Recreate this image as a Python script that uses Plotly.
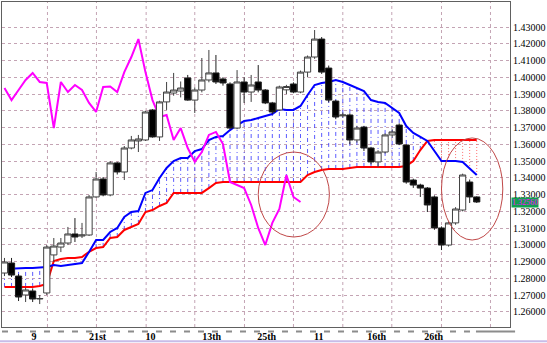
import plotly.graph_objects as go

# ---------------- data ----------------
opens = [1.2832, 1.2892, 1.2814, 1.2701, 1.2725, 1.2677, 1.2713, 1.2940, 1.2987, 1.3011,
         1.3065, 1.3053, 1.3059, 1.3286, 1.3393, 1.3298, 1.3489, 1.3435, 1.3578, 1.3620,
         1.3626, 1.3805, 1.3644, 1.3853, 1.3906, 1.3918, 1.3996, 1.3864, 1.3924, 1.3984,
         1.4026, 1.3990, 1.3960, 1.3697, 1.3972, 1.3912, 1.3972, 1.3924, 1.3847, 1.3805,
         1.3925, 1.3960, 1.3912, 1.4031, 1.4121, 1.4228, 1.4055, 1.3858, 1.3770, 1.3775,
         1.3626, 1.3703, 1.3578, 1.3495, 1.3554, 1.3656, 1.3715, 1.3596, 1.3387, 1.3357,
         1.3339, 1.3286, 1.3101, 1.2999, 1.3131, 1.3208, 1.3375, 1.3286]
highs = [1.2922, 1.2922, 1.2826, 1.2745, 1.2740, 1.2701, 1.2999, 1.3041, 1.3041, 1.3107,
         1.3160, 1.3131, 1.3298, 1.3435, 1.3405, 1.3500, 1.3495, 1.3590, 1.3650, 1.3656,
         1.3800, 1.3810, 1.3860, 1.3972, 1.4026, 1.3975, 1.4014, 1.3940, 1.4115, 1.4163,
         1.4133, 1.4000, 1.3970, 1.4043, 1.4000, 1.4014, 1.4073, 1.3930, 1.3853, 1.3950,
         1.3955, 1.3970, 1.4040, 1.4130, 1.4282, 1.4240, 1.4070, 1.3865, 1.3790, 1.3785,
         1.3710, 1.3710, 1.3585, 1.3565, 1.3665, 1.3690, 1.3725, 1.3600, 1.3395, 1.3365,
         1.3345, 1.3295, 1.3110, 1.3140, 1.3225, 1.3425, 1.3390, 1.3290]
lows = [1.2814, 1.2808, 1.2665, 1.2659, 1.2659, 1.2647, 1.2701, 1.2898, 1.2957, 1.2999,
        1.3017, 1.3041, 1.3053, 1.3280, 1.3290, 1.3290, 1.3420, 1.3387, 1.3570, 1.3554,
        1.3620, 1.3640, 1.3620, 1.3805, 1.3890, 1.3880, 1.3860, 1.3787, 1.3910, 1.3970,
        1.3960, 1.3950, 1.3690, 1.3690, 1.3847, 1.3853, 1.3910, 1.3840, 1.3780, 1.3800,
        1.3900, 1.3905, 1.3905, 1.4000, 1.4110, 1.4020, 1.3850, 1.3750, 1.3760, 1.3600,
        1.3610, 1.3560, 1.3480, 1.3465, 1.3545, 1.3640, 1.3595, 1.3365, 1.3340, 1.3286,
        1.3196, 1.3090, 1.2969, 1.2990, 1.3120, 1.3200, 1.3250, 1.3250]
closes = [1.2898, 1.2820, 1.2689, 1.2731, 1.2677, 1.2680, 1.2987, 1.2993, 1.3011, 1.3065,
          1.3047, 1.3059, 1.3286, 1.3393, 1.3298, 1.3489, 1.3435, 1.3578, 1.3626, 1.3632,
          1.3793, 1.3644, 1.3853, 1.3912, 1.3924, 1.3936, 1.3864, 1.3924, 1.3984, 1.4026,
          1.3972, 1.3966, 1.3697, 1.3972, 1.3912, 1.3954, 1.3924, 1.3847, 1.3793, 1.3942,
          1.3945, 1.3912, 1.4031, 1.4121, 1.4228, 1.4031, 1.3864, 1.3763, 1.3775, 1.3626,
          1.3697, 1.3578, 1.3495, 1.3554, 1.3656, 1.3674, 1.3602, 1.3375, 1.3357, 1.3339,
          1.3238, 1.3101, 1.2999, 1.3131, 1.3214, 1.3417, 1.3286, 1.3256]
span_blue = [1.2856, 1.2859, 1.2862, 1.2862, 1.2862, 1.2865, 1.2868, 1.2880, 1.2874, 1.2880,
             1.2886, 1.2892, 1.2958, 1.3029, 1.3029, 1.3077, 1.3101, 1.3166, 1.3196, 1.3202,
             1.3310, 1.3327, 1.3399, 1.3459, 1.3500, 1.3518, 1.3518, 1.3560, 1.3572, 1.3626,
             1.3644, 1.3650, 1.3685, 1.3715, 1.3739, 1.3745, 1.3757, 1.3769, 1.3781, 1.3811,
             1.3805, 1.3805, 1.3829, 1.3894, 1.3954, 1.3966, 1.3972, 1.3984, 1.3972, 1.3954,
             1.3936, 1.3918, 1.3864, 1.3853, 1.3847, 1.3817, 1.3787, 1.3709, 1.3668, 1.3644,
             1.3620, 1.3560, 1.3500, 1.3500, 1.3500, 1.3495, 1.3453, 1.3417]
span_red = [1.2749, 1.2749, 1.2749, 1.2749, 1.2749, 1.2755, 1.2767, 1.2904, 1.2916, 1.2922,
            1.2922, 1.2928, 1.2958, 1.2981, 1.2987, 1.3041, 1.3047, 1.3089, 1.3107, 1.3125,
            1.3196, 1.3208, 1.3232, 1.3250, 1.3310, 1.3310, 1.3310, 1.3310, 1.3310, 1.3339,
            1.3369, 1.3375, 1.3375, 1.3375, 1.3375, 1.3375, 1.3375, 1.3375, 1.3375, 1.3375,
            1.3375, 1.3375, 1.3375, 1.3417, 1.3435, 1.3447, 1.3453, 1.3453, 1.3453, 1.3459,
            1.3465, 1.3465, 1.3465, 1.3465, 1.3465, 1.3465, 1.3465, 1.3471, 1.3500, 1.3566,
            1.3620, 1.3626, 1.3626, 1.3626, 1.3626, 1.3626, 1.3626, 1.3626]
CHIKOU_SHIFT = 25
date_labels = ["9", "21st", "10", "13th", "25th", "11", "16th", "26th"]
date_label_pos = [4.2, 13.2, 20.7, 29.4, 37.2, 44.6, 52.8, 60.9]
price_ticks = [1.26, 1.27, 1.28, 1.29, 1.30, 1.31, 1.32, 1.33, 1.34,
               1.35, 1.36, 1.37, 1.38, 1.39, 1.40, 1.41, 1.42, 1.43]
grid_x = [6.1, 13.05, 20.1, 27.0, 34.05, 41.0, 48.0, 54.95, 62.0, 68.95]
# highlighted regions (bar index range, price range)
ellipses = [(36.0, 46.1, 1.3047, 1.3554), (62.0, 70.7, 1.3029, 1.3638)]

X_RANGE = [-0.35, 71.72]
Y_RANGE = [1.25100, 1.44492]
GRID_COLOR = "#c4a4b4"
FONT = "Liberation Serif"

idx = list(range(len(closes)))

# cloud hatching
hb_x, hb_y, hr_x, hr_y = [], [], [], []
for i, (b, r) in enumerate(zip(span_blue, span_red)):
    if b >= r:
        hb_x += [i, i, None]
        hb_y += [r, b, None]
    else:
        hr_x += [i, i, None]
        hr_y += [b, r, None]

fig = go.Figure()
fig.add_trace(go.Scatter(x=hb_x, y=hb_y, mode="lines", hoverinfo="skip",
                         line=dict(color="rgba(50,50,255,0.8)", width=1, dash="4px,3px,1px,3px")))
fig.add_trace(go.Scatter(x=hr_x, y=hr_y, mode="lines", hoverinfo="skip",
                         line=dict(color="#ff7070", width=1, dash="1px,2px")))
fig.add_trace(go.Scatter(x=idx, y=span_red, mode="lines", line=dict(color="#ff0000", width=2)))
fig.add_trace(go.Scatter(x=idx, y=span_blue, mode="lines", line=dict(color="#0000ff", width=2)))
fig.add_trace(go.Scatter(x=[i - CHIKOU_SHIFT for i in idx[CHIKOU_SHIFT:]], y=closes[CHIKOU_SHIFT:],
                         mode="lines", line=dict(color="#ff00ff", width=2)))
fig.add_trace(go.Candlestick(x=idx, open=opens, high=highs, low=lows, close=closes,
                             xaxis="x2", yaxis="y2", whiskerwidth=0,
                             increasing=dict(fillcolor="#ffffff", line=dict(color="#404040", width=1)),
                             decreasing=dict(fillcolor="#000000", line=dict(color="#202020", width=1))))

shapes = []
for gx in grid_x:
    shapes.append(dict(type="line", xref="x", yref="paper", x0=gx, x1=gx, y0=0, y1=1,
                       line=dict(color=GRID_COLOR, width=1, dash="dot"), layer="below"))
for (ex0, ex1, ey0, ey1) in ellipses:
    shapes.append(dict(type="circle", xref="x", yref="y", x0=ex0, x1=ex1, y0=ey0, y1=ey1,
                       line=dict(color="#c04848", width=1), layer="above"))
# bottom scale strip and frame decorations
shapes.append(dict(type="line", xref="paper", yref="paper", x0=0, x1=0.933, y0=-0.0135, y1=-0.0135,
                   line=dict(color="#8c8c8c", width=2, dash="6px,8px")))
shapes.append(dict(type="line", xref="paper", yref="paper", x0=0.933, x1=1.01, y0=-0.0135, y1=-0.0135,
                   line=dict(color="#8c8c8c", width=2)))
shapes.append(dict(type="line", xref="paper", yref="paper", x0=-0.01, x1=1.08, y0=-0.044, y1=-0.044,
                   line=dict(color="#c8bce8", width=2)))

fig.update_layout(
    width=547, height=343,
    margin=dict(l=1, r=35, t=2, b=16),
    paper_bgcolor="white", plot_bgcolor="white",
    showlegend=False,
    boxgap=0.12, boxgroupgap=0,
    shapes=shapes,
    xaxis=dict(range=X_RANGE, tickvals=date_label_pos, ticktext=date_labels,
               showgrid=False, zeroline=False, ticks="",
               tickfont=dict(family=FONT, size=10, color="#000000", weight="bold"),
               showline=True, mirror=True, linecolor="#606060", linewidth=1),
    xaxis2=dict(range=X_RANGE, overlaying="x", visible=False, rangeslider=dict(visible=False)),
    yaxis=dict(range=Y_RANGE, side="right", tickvals=price_ticks,
               ticktext=[f"{v:.5f}" for v in price_ticks],
               showgrid=True, gridcolor=GRID_COLOR, griddash="dot", gridwidth=1,
               zeroline=False, ticks="",
               tickfont=dict(family=FONT, size=10, color="#000000"),
               showline=True, mirror=True, linecolor="#606060", linewidth=1),
    yaxis2=dict(range=Y_RANGE, overlaying="y", side="right", visible=False),
    annotations=[dict(xref="paper", yref="y", x=1, y=closes[-1], xanchor="left", yanchor="middle",
                      xshift=1, yshift=-1, text=f"{closes[-1]:.5f}", showarrow=False, borderpad=0,
                      bgcolor="#10a050", font=dict(family=FONT, size=8, color="#ff00ff"))],
)
fig.update_xaxes(rangeslider_visible=False)

fig.write_html("out.html")
